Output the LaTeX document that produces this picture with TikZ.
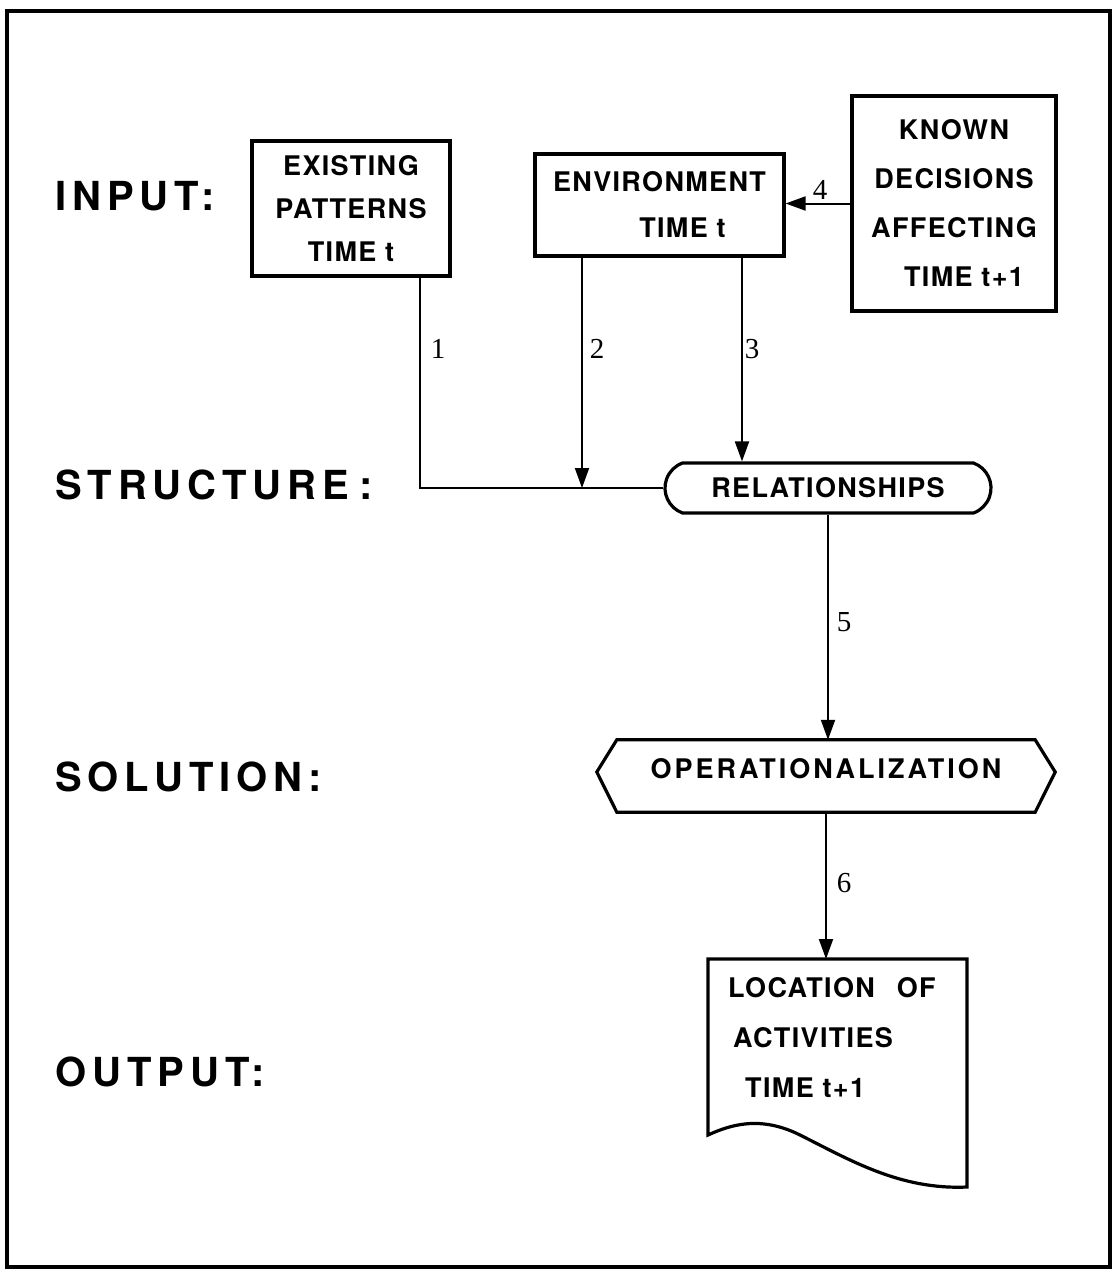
\documentclass[tikz,border=0pt]{standalone}
\usepackage{fontspec}
\newfontfamily\lblfont[LetterSpace=15]{TeX Gyre Heros}
\newfontfamily\boxfont[LetterSpace=5]{TeX Gyre Heros}
\newfontfamily\numfont{Liberation Serif}
\usetikzlibrary{arrows.meta,shapes.misc}
\begin{document}
\begin{tikzpicture}[x=1pt,y=-1pt,
  boxline/.style={line width=3.2pt,line join=miter},
  box/.style={draw,boxline,inner sep=0pt,align=center,font={\boxfont\bfseries\fontsize{27}{43}\selectfont}},
  lbl/.style={anchor=base west,inner sep=0pt,font={\lblfont\bfseries\fontsize{40}{40}\selectfont}},
  num/.style={inner sep=0pt,font={\numfont\fontsize{29}{29}\selectfont}},
  conn/.style={line width=2pt},
  arr/.style={conn,-{Triangle[length=20pt,width=14pt]}}]
\useasboundingbox (0,0) rectangle (1115,1275);
\draw[line width=3.2pt] (7,11) rectangle (1110,1267);

% row labels
\node[lbl] (linput) at (55,210) {INPUT:};
\node[lbl] (lstruct) at (55,499) {STRUCTURE\hspace{10pt}:};
\node[lbl] (lsol) at (55,791) {SOLUTION:};
\node[lbl] (lout) at (55,1086) {OUTPUT:};

% input boxes
\node[box,minimum width=198pt,minimum height=135pt] (exist) at (351,208.5) {EXISTING\\PATTERNS\\TIME t};
\node[box,minimum width=249pt,minimum height=102pt,font={\boxfont\bfseries\fontsize{27}{46}\selectfont}] (env) at (659.5,205) {ENVIRONMENT\\\hspace*{46pt}TIME t};
\node[box,minimum width=204pt,minimum height=215pt,font={\boxfont\bfseries\fontsize{27}{49}\selectfont}] (known) at (954,203.5) {KNOWN\\DECISIONS\\AFFECTING\\\hspace*{20pt}TIME t+1};

% structure
\node[box,rounded rectangle,rounded rectangle arc length=140,minimum width=326pt,minimum height=50pt] (rel) at (828,488) {RELATIONSHIPS};

% solution
\node[inner sep=0pt,minimum width=418pt,minimum height=72pt,text height=19pt,text depth=15pt,
      font={\boxfont\bfseries\addfontfeature{LetterSpace=11}\fontsize{27}{27}\selectfont}] (op) at (826,776) {OPERATIONALIZATION};
\draw[boxline] (op.north west) -- (op.north east) -- ([xshift=20pt,yshift=4pt]op.east) -- (op.south east)
   -- (op.south west) -- ([xshift=-20pt,yshift=4pt]op.west) -- cycle;

% output document
\draw[boxline] (708,959) -- (967,959) -- (967,1187) .. controls (900,1190) and (850,1160) .. (800,1135)
   .. controls (760,1115) and (730,1125) .. (708,1135) -- cycle;
\coordinate (doctop) at (827,959);
\node[anchor=north west,inner sep=0pt,align=left,font={\boxfont\bfseries\fontsize{27}{50}\selectfont}] (doc) at (728,977)
   {LOCATION\hspace{22pt}OF\\\hspace*{5pt}ACTIVITIES\\\hspace*{17pt}TIME t+1};

% connectors
\draw[conn] ([xshift=69pt]exist.south) coordinate (a1) |- (rel.west);
\draw[arr] ([xshift=-77.5pt]env.south) coordinate (a2) -- (a2 |- rel.west);
\draw[arr] ([xshift=82.5pt]env.south) coordinate (a3) -- (a3 |- rel.north);
\draw[arr] (known.west) -- (known.west -| env.east);
\draw[arr] (rel.south) -- (rel.south |- op.north);
\draw[arr] (op.south) -- (op.south |- doctop);

% numbers
\node[num] (n1) at (438,349) {1};
\node[num] (n2) at (597,349) {2};
\node[num] (n3) at (752,349) {3};
\node[num] (n4) at (820,190) {4};
\node[num] (n5) at (844,622) {5};
\node[num] (n6) at (844,883) {6};
\end{tikzpicture}
\end{document}
